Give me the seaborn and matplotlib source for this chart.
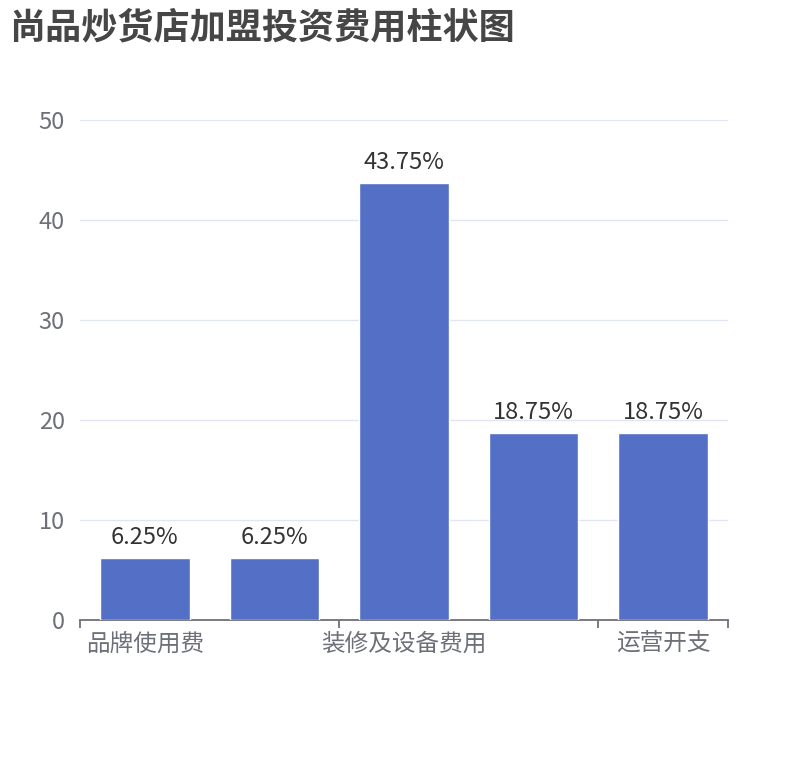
import matplotlib
matplotlib.use("Agg")
import matplotlib.pyplot as plt
import seaborn as sns
import pandas as pd

# Chart data
categories = ["品牌使用费", "保证金", "装修及设备费用", "首批进货费", "运营开支"]
values = [6.25, 6.25, 43.75, 18.75, 18.75]
shown_labels = ["品牌使用费", "装修及设备费用", "运营开支"]
y_ticks = [0, 10, 20, 30, 40, 50]

BAR_COLOR = "#5470c6"
AXIS_COLOR = "#6e7079"
GRID_COLOR = "#e0e6f1"

sns.set_style("white")
plt.rcParams["font.family"] = ["Noto Sans CJK SC", "DejaVu Sans"]

df = pd.DataFrame({"category": categories, "value": values})

fig = plt.figure(figsize=(8.1, 7.6), dpi=100)
ax = fig.add_axes([80 / 810, 140 / 760, 648 / 810, 500 / 760])

sns.barplot(data=df, x="category", y="value", color=BAR_COLOR, saturation=1,
            width=0.69, ax=ax, zorder=3)

ax.set_xlim(-0.5, len(categories) - 0.5)
ax.set_ylim(0, 50)
ax.set_yticks(y_ticks)
ax.yaxis.grid(True, color=GRID_COLOR, linewidth=1, zorder=0)
ax.set_axisbelow(True)

for side in ["top", "right", "left"]:
    ax.spines[side].set_visible(False)
ax.spines["bottom"].set_color(AXIS_COLOR)
ax.spines["bottom"].set_linewidth(1.3)

ax.tick_params(axis="y", length=0, pad=11, labelsize=17, labelcolor=AXIS_COLOR)

# boundary ticks every 2 categories, labels centred on categories
ax.set_xticks([-0.5, 1.5, 3.5, 4.5])
ax.set_xticklabels([])
ax.tick_params(axis="x", which="major", bottom=True, direction="out",
               length=6, width=1.3, color=AXIS_COLOR)
ax.set_xticks([0, 2, 4], minor=True)
ax.set_xticklabels(shown_labels, minor=True)
ax.tick_params(axis="x", which="minor", bottom=True, length=0, pad=9,
               labelsize=17, labelcolor=AXIS_COLOR)
ax.set_xlabel("")
ax.set_ylabel("")

for i, v in enumerate(values):
    ax.annotate(f"{v:.2f}%", (i, v), xytext=(0, 6), textcoords="offset points",
                ha="center", va="bottom", fontsize=17, color="#333333")

fig.text(9 / 810, 1 - 28 / 760, "尚品炒货店加盟投资费用柱状图", fontsize=26,
         fontweight="bold", color="#464646", ha="left", va="center")

fig.savefig("out.png", dpi=100)
